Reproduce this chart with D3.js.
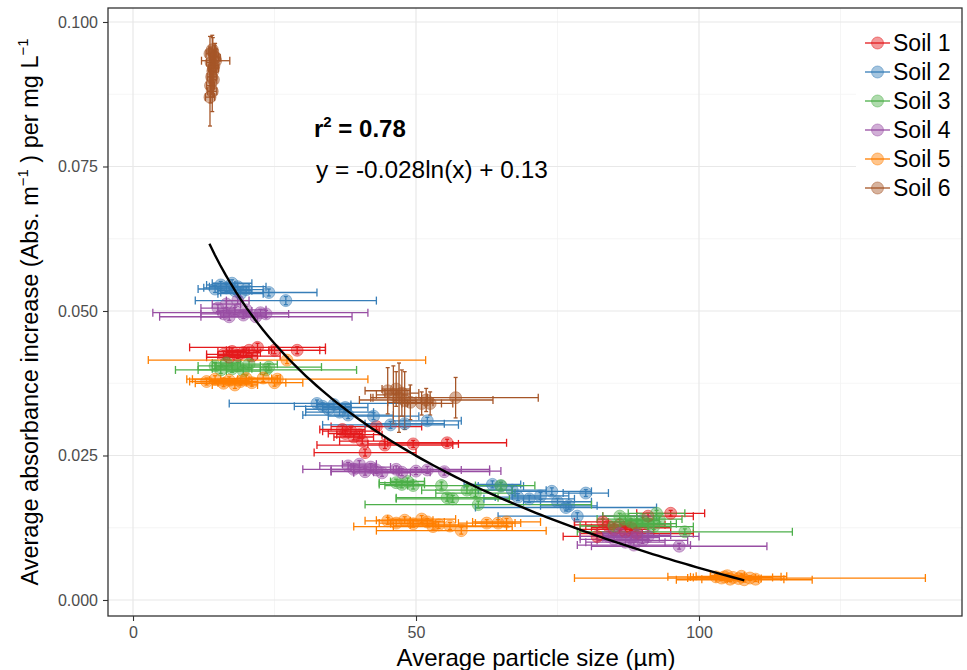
<!DOCTYPE html>
<html><head><meta charset="utf-8">
<script src="https://cdn.jsdelivr.net/npm/d3@7/dist/d3.min.js"></script>
<style>body{margin:0;background:#fff}svg{display:block}text{font-family:"Liberation Sans",Arial,sans-serif}</style>
</head><body>
<svg id="c" width="967" height="670"></svg>
<script>
// ---- data: [x mean, y mean, x sd, y sd] ----
const soil1 = [[16,0.0425,3,0.0006],[17,0.0420,4,0.0005],[17.5,0.0430,2.5,0.0006],[18.5,0.0423,3.5,0.0005],[19.5,0.0428,3,0.0006],[20.5,0.0432,4,0.0005],[21,0.0422,5,0.0006],[22,0.0437,12,0.0007],[25,0.0432,8,0.0006],[29,0.0432,5,0.0006],
[37,0.0295,4,0.0006],[37.5,0.0288,3,0.0005],[38.5,0.0292,5,0.0006],[39,0.0282,3.5,0.0005],[40,0.0286,4,0.0006],[40.5,0.0275,4,0.0005],[41,0.0255,9,0.0006],[44.5,0.0268,12,0.0006],[49.5,0.0270,8,0.0006],[55.5,0.0272,10.5,0.0006],[43,0.0300,8,0.0005],
[83,0.0135,5,0.0005],[84,0.0128,4,0.0005],[85,0.0122,6,0.0005],[86,0.0130,8,0.0005],[87,0.0118,5,0.0005],[88,0.0125,7,0.0005],[89,0.0115,10,0.0005],[95,0.0150,6,0.0005],[91,0.0145,8,0.0005],[82,0.0110,6,0.0005]];
const soil2 = [[14.5,0.0538,3,0.0006],[15.5,0.0545,2.5,0.0006],[16.5,0.0540,4,0.0006],[17.5,0.0548,3.5,0.0006],[18,0.0535,3,0.0006],[18.5,0.0542,5,0.0006],[19,0.0530,4,0.0006],[20,0.0537,3,0.0006],[24,0.0532,8.5,0.0006],[27,0.0518,16,0.0007],
[32.5,0.0340,15.5,0.0006],[33.5,0.0335,5,0.0006],[34.5,0.0330,4,0.0006],[35.5,0.0338,3,0.0006],[36.5,0.0325,6,0.0006],[37.5,0.0333,4,0.0006],[38,0.0320,8,0.0006],[42.5,0.0318,8,0.0006],[48,0.0305,7,0.0006],[52,0.0310,6,0.0006],[45.5,0.0303,12,0.0006],
[63.5,0.0200,5,0.0006],[65,0.0197,4,0.0006],[67,0.0190,6,0.0006],[70,0.0175,8,0.0006],[72,0.0180,5,0.0006],[74,0.0188,7,0.0006],[75,0.0170,6,0.0006],[76.5,0.0160,16,0.0006],[78.5,0.0145,14,0.0006],[77,0.0163,5,0.0006],[80,0.0185,4,0.0006],[68,0.0178,4,0.0006]];
const soil3 = [[14.5,0.0405,3,0.0006],[15.5,0.0398,4,0.0006],[16.5,0.0410,2.5,0.0006],[17.5,0.0400,3.5,0.0006],[18.5,0.0405,4,0.0006],[19.5,0.0396,3,0.0006],[20.5,0.0408,5,0.0006],[23.5,0.0398,16,0.0006],[24,0.0403,9.3,0.0006],
[46.5,0.0203,3,0.0006],[47.5,0.0200,4,0.0006],[48.5,0.0205,3,0.0006],[49.5,0.0198,5,0.0006],[54.5,0.0198,6,0.0006],[55.5,0.0177,9,0.0006],[56.5,0.0175,10,0.0006],[60.5,0.0185,7,0.0006],[65,0.0198,6,0.0006],[61,0.0165,20,0.0006],[59,0.0190,8,0.0006],
[86,0.0145,3,0.0005],[87,0.0140,5,0.0005],[88,0.0135,4,0.0005],[89,0.0130,6,0.0005],[90,0.0138,3,0.0005],[91,0.0132,5,0.0005],[92,0.0127,7,0.0005],[93,0.0140,4,0.0005],[97.5,0.0118,19,0.0005],[92.5,0.0150,5,0.0005],[85,0.0128,6,0.0005]];
const soil4 = [[15,0.0505,3,0.0006],[16,0.0495,4,0.0006],[16.5,0.0512,2.5,0.0006],[17,0.0490,5,0.0006],[18,0.0500,3,0.0006],[18.5,0.0518,2,0.0006],[19.5,0.0493,4,0.0006],[20,0.0502,3.5,0.0006],[22.5,0.0497,19,0.0006],[21.7,0.0490,17,0.0006],[23.5,0.0495,4,0.0006],
[38,0.0232,5,0.0006],[39,0.0226,4,0.0006],[40,0.0235,3,0.0006],[41,0.0222,6,0.0006],[42,0.0230,3.5,0.0006],[43,0.0225,4,0.0006],[44,0.0220,5,0.0006],[46.5,0.0226,16.5,0.0006],[47.5,0.0221,5,0.0006],[52,0.0225,6,0.0006],[55,0.0222,8,0.0006],[50,0.0223,15,0.0006],
[84,0.0110,5,0.0005],[85,0.0105,6,0.0005],[86,0.0115,4,0.0005],[87,0.0100,7,0.0005],[88,0.0108,5,0.0005],[89,0.0112,6,0.0005],[90,0.0103,8,0.0005],[96.5,0.0093,15.5,0.0005],[91,0.0110,9,0.0005],[88.5,0.0095,10,0.0005]];
const soil5 = [[27.2,0.0415,24.5,0.0006],[13,0.0378,3,0.0006],[14.5,0.0382,4,0.0006],[16,0.0375,5,0.0006],[17,0.0380,3.5,0.0006],[18,0.0372,4,0.0006],[19,0.0378,3,0.0006],[20,0.0383,4.5,0.0006],[21,0.0376,6,0.0006],[25.5,0.0382,16,0.0006],[25,0.0376,5,0.0006],[23,0.0384,3,0.0006],
[45,0.0137,4,0.0006],[46.5,0.0133,3,0.0006],[48,0.0138,5,0.0006],[49.5,0.0132,4,0.0006],[51,0.0140,6,0.0006],[52,0.0135,3,0.0006],[54,0.0130,5,0.0006],[58,0.0120,15,0.0006],[62.5,0.0133,5,0.0006],[64.5,0.0133,4,0.0006],[66,0.0135,6,0.0006],[56,0.0128,10,0.0006],[53,0.0127,14,0.0006],
[103,0.0040,4.5,0.0004],[104,0.0038,6,0.0004],[105,0.0042,3,0.0004],[105.5,0.0036,5,0.0004],[106,0.0039,7,0.0004],[107,0.0037,4,0.0004],[107.5,0.0041,8,0.0004],[108,0.0035,12,0.0004],[109,0.0038,31,0.0004],[110,0.0036,5,0.0004],[104.5,0.0040,10,0.0004]];
const soil6 = [[13.6,0.0945,0.7,0.0030],[13.8,0.0930,0.8,0.0025],[14.0,0.0952,0.6,0.0025],[14.2,0.0920,0.9,0.0030],[14.4,0.0940,0.7,0.0020],[13.9,0.0905,0.8,0.0030],[14.1,0.0915,0.6,0.0025],[14.6,0.0933,2.5,0.0020],[13.7,0.0890,0.7,0.0030],[14.0,0.0880,0.8,0.0035],[14.3,0.0925,0.7,0.0025],[14.2,0.0900,0.6,0.0030],[13.6,0.0870,0.8,0.0050],[14.1,0.0948,0.7,0.0025],[14.5,0.0938,0.9,0.0025],
[45,0.0362,4,0.004],[46,0.0355,3,0.005],[46.5,0.0365,2.5,0.003],[47,0.0350,5,0.006],[47.5,0.0358,3,0.004],[48,0.0345,2,0.005],[49,0.0342,4,0.003],[51,0.0340,3.5,0.002],[52.5,0.0340,4,0.002],[57,0.0350,14.6,0.0035],[51.8,0.0346,11.8,0.002]];

const soilNames = ["Soil 1","Soil 2","Soil 3","Soil 4","Soil 5","Soil 6"];
const soilColors = ["#E41A1C","#377EB8","#4DAF4A","#984EA3","#FF7F00","#A65628"];
const soilData = [soil1,soil2,soil3,soil4,soil5,soil6];
const xTicks = [0,50,100];
const yTicks = [0,0.025,0.05,0.075,0.1];
const xMinor = [25,75,125];
const yMinor = [0.0125,0.0375,0.0625,0.0875];
// fitted model y = a ln(x) + b (shown rounded in the label)
const fitA = -0.028, fitB = 0.1345, fitRange = [13.5,108];
const r2Label = "0.78";
const eqLabel = "y = -0.028ln(x) + 0.13";

const L=108,R=962,T=8,B=616;
const x = d3.scaleLinear().domain([-4.42,146.47]).range([L,R]);
const y = d3.scaleLinear().domain([-0.00277,0.10242]).range([B,T]);
const svg = d3.select("#c");

// grid
const g = svg.append("g");
g.selectAll(".xm").data(xMinor).join("line").attr("x1",d=>x(d)).attr("x2",d=>x(d)).attr("y1",T).attr("y2",B).attr("stroke","#f2f2f2").attr("stroke-width",0.8);
g.selectAll(".ym").data(yMinor).join("line").attr("y1",d=>y(d)).attr("y2",d=>y(d)).attr("x1",L).attr("x2",R).attr("stroke","#f2f2f2").attr("stroke-width",0.8);
g.selectAll(".xM").data(xTicks).join("line").attr("x1",d=>x(d)).attr("x2",d=>x(d)).attr("y1",T).attr("y2",B).attr("stroke","#e8e8e8").attr("stroke-width",1.2);
g.selectAll(".yM").data(yTicks).join("line").attr("y1",d=>y(d)).attr("y2",d=>y(d)).attr("x1",L).attr("x2",R).attr("stroke","#e8e8e8").attr("stroke-width",1.2);

// axes
const xa = svg.append("g").attr("transform",`translate(0,${B})`).call(d3.axisBottom(x).tickValues(xTicks).tickSize(5).tickPadding(6).tickFormat(d3.format("d")));
const ya = svg.append("g").attr("transform",`translate(${L},0)`).call(d3.axisLeft(y).tickValues(yTicks).tickSize(5).tickPadding(5).tickFormat(d3.format(".3f")));
[xa,ya].forEach(a=>{a.select(".domain").remove();a.selectAll(".tick line").attr("stroke","#333").attr("stroke-width",1.1);a.selectAll(".tick text").attr("fill","#4d4d4d").style("font-size","16px");});

// error bars + points
const capH=4, capW=2;
soilData.forEach((arr,i)=>{
  const col=soilColors[i];
  const gg=svg.append("g").attr("stroke",col).attr("stroke-width",1.3).attr("fill","none");
  arr.forEach(d=>{
    const cx=x(d[0]), cy=y(d[1]), x0=x(d[0]-d[2]), x1=x(d[0]+d[2]), y0=y(d[1]-d[3]), y1=y(d[1]+d[3]);
    gg.append("line").attr("x1",x0).attr("x2",x1).attr("y1",cy).attr("y2",cy);
    gg.append("line").attr("x1",x0).attr("x2",x0).attr("y1",cy-capH).attr("y2",cy+capH);
    gg.append("line").attr("x1",x1).attr("x2",x1).attr("y1",cy-capH).attr("y2",cy+capH);
    gg.append("line").attr("x1",cx).attr("x2",cx).attr("y1",y0).attr("y2",y1);
    gg.append("line").attr("x1",cx-capW).attr("x2",cx+capW).attr("y1",y0).attr("y2",y0);
    gg.append("line").attr("x1",cx-capW).attr("x2",cx+capW).attr("y1",y1).attr("y2",y1);
  });
});
soilData.forEach((arr,i)=>{
  const col=soilColors[i];
  svg.append("g").selectAll("circle").data(arr).join("circle")
    .attr("cx",d=>x(d[0])).attr("cy",d=>y(d[1])).attr("r",6)
    .attr("fill",col).attr("fill-opacity",0.45).attr("stroke",col).attr("stroke-opacity",0.5).attr("stroke-width",1);
});

// fit line
const fitPts = d3.range(0,101).map(k=>{const xv=fitRange[0]+(fitRange[1]-fitRange[0])*k/100;return [xv,fitA*Math.log(xv)+fitB];});
svg.append("path").datum(fitPts).attr("d",d3.line().x(d=>x(d[0])).y(d=>y(d[1]))).attr("fill","none").attr("stroke","#000").attr("stroke-width",2.4);

// panel border
svg.append("rect").attr("x",L).attr("y",T).attr("width",R-L).attr("height",B-T).attr("fill","none").attr("stroke","#333").attr("stroke-width",1.3);

// annotations
const a1 = svg.append("text").attr("x",314).attr("y",137).style("font-size","24px").style("font-weight","bold").attr("fill","#000");
a1.append("tspan").text("r");
a1.append("tspan").attr("dy",-10).style("font-size","15px").text("2");
a1.append("tspan").attr("dy",10).text(" = "+r2Label);
svg.append("text").attr("x",316).attr("y",178).style("font-size","24.4px").attr("fill","#000").text(eqLabel);

// legend
const lg = svg.append("g");
lg.append("rect").attr("x",856).attr("y",24).attr("width",R-856-1).attr("height",182).attr("fill","#fff");
soilNames.forEach((n,i)=>{
  const yy=43+i*29;
  lg.append("line").attr("x1",865).attr("x2",890).attr("y1",yy).attr("y2",yy).attr("stroke",soilColors[i]).attr("stroke-width",1.3);
  lg.append("circle").attr("cx",877.5).attr("cy",yy).attr("r",6).attr("fill",soilColors[i]).attr("fill-opacity",0.45).attr("stroke",soilColors[i]).attr("stroke-opacity",0.5);
  lg.append("text").attr("x",893).attr("y",yy+8).style("font-size","23px").attr("fill","#000").text(n);
});

// axis titles
svg.append("text").attr("x",536).attr("y",666).attr("text-anchor","middle").style("font-size","24px").attr("fill","#000").text("Average particle size (µm)");
const yt = svg.append("text").attr("transform",`translate(38,${(T+B)/2}) rotate(-90)`).attr("text-anchor","middle").style("font-size","23.5px").attr("fill","#000");
yt.append("tspan").text("Average absorbance increase (Abs. m");
yt.append("tspan").attr("dy",-10).style("font-size","15px").text("−1");
yt.append("tspan").attr("dy",10).text(" ) per mg L");
yt.append("tspan").attr("dy",-10).style("font-size","15px").text("−1");
</script>
</body></html>
